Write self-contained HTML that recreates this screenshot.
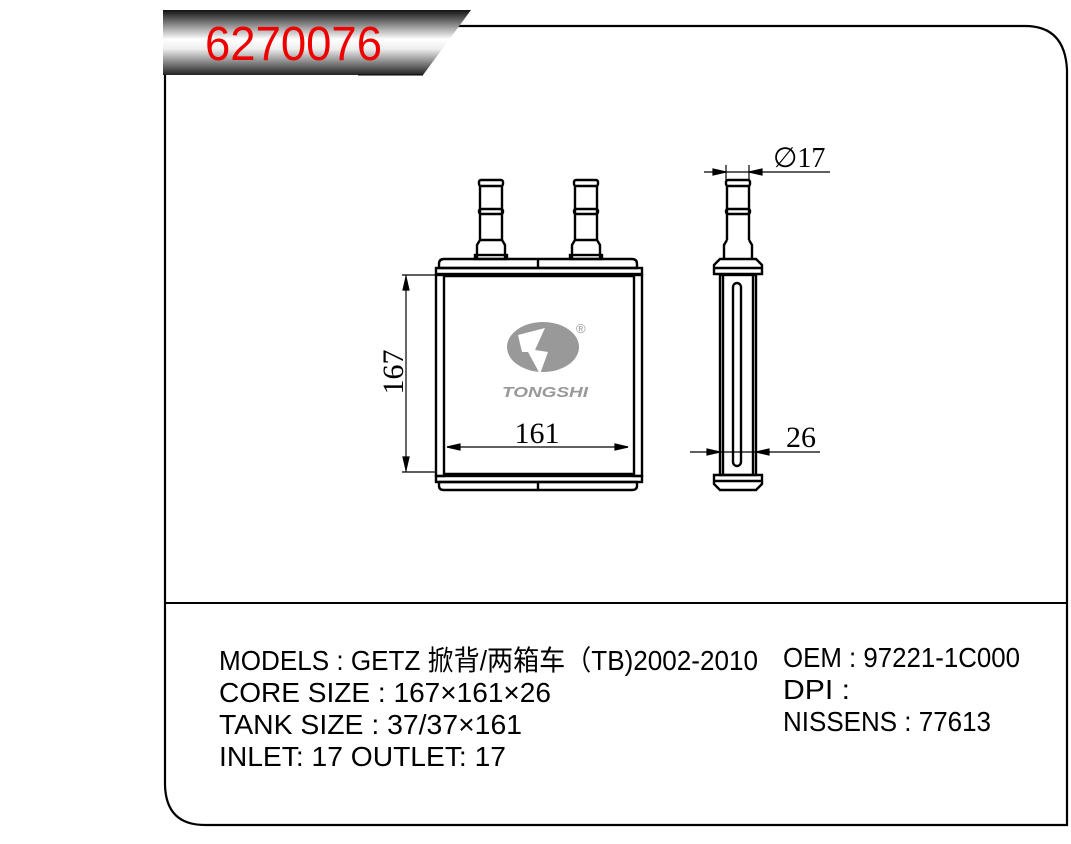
<!DOCTYPE html>
<html><head><meta charset="utf-8"><style>
html,body{margin:0;padding:0;background:#fff;}
svg{display:block;}
</style></head><body>
<svg width="1071" height="844" viewBox="0 0 1071 844" xmlns="http://www.w3.org/2000/svg">
<defs>
<linearGradient id="g" x1="0" y1="0" x2="0" y2="1">
<stop offset="0" stop-color="#111"/><stop offset="0.45" stop-color="#fff"/><stop offset="0.6" stop-color="#eee"/><stop offset="1" stop-color="#222"/>
</linearGradient>
</defs>
<path d="M458 26 H1025 Q1065 26 1067 70 V825 H205 Q166 825 165 785 V75" fill="none" stroke="#000" stroke-width="2.2"/>
<line x1="165" y1="603" x2="1067" y2="603" stroke="#000" stroke-width="2"/>
<polygon points="163,10 471,10 423,75 163,75" fill="url(#g)"/>
<line x1="358" y1="75" x2="423" y2="75" stroke="#000" stroke-width="1"/>
<text x="205" y="60" font-family="Liberation Sans, sans-serif" font-size="48" fill="#e00" textLength="177" lengthAdjust="spacingAndGlyphs">6270076</text>

<g fill="none" stroke="#000" stroke-width="2.4">
<g id="p">
<rect x="479" y="180" width="24" height="6" rx="2"/>
<line x1="480" y1="186" x2="480" y2="240"/><line x1="502" y1="186" x2="502" y2="240"/>
<rect x="479" y="209" width="24" height="5" rx="2"/>
<path d="M480 240 L477 245 V258 M502 240 L505 245 V258"/>
<line x1="480" y1="240" x2="502" y2="240"/>
<rect x="475" y="255" width="32" height="4"/>
</g>
<use href="#p" transform="translate(95,0)"/>
<path d="M444 259 H632 Q637 259 637 264 V268 H439 V264 Q439 259 444 259Z"/>
<line x1="538" y1="259" x2="538" y2="268"/>
<rect x="436" y="268" width="206" height="6"/>
<rect x="436" y="275" width="8" height="201"/>
<rect x="634" y="275" width="8" height="201"/>
<line x1="444" y1="276" x2="634" y2="276"/>
<line x1="444" y1="474" x2="634" y2="474"/>
<rect x="436" y="476" width="206" height="6"/>
<path d="M439 482 H637 V486 Q637 490 632 490 H444 Q439 490 439 486Z"/>
<line x1="538" y1="482" x2="538" y2="490"/>
</g>
<g stroke="#000" stroke-width="1.2" fill="#000">
<line x1="402" y1="275" x2="436" y2="275"/>
<line x1="402" y1="472" x2="436" y2="472"/>
<line x1="406" y1="275" x2="406" y2="472"/>
<polygon points="406,277 403,290 409,290"/><polygon points="406,470 403,457 409,457"/>
<line x1="447" y1="447" x2="628" y2="447"/>
<polygon points="447,447 460,444 460,450"/><polygon points="628,447 615,444 615,450"/>
</g>
<text x="537" y="443" font-family="Liberation Serif, serif" font-size="30" text-anchor="middle">161</text>
<text transform="translate(403,372) rotate(-90)" font-family="Liberation Serif, serif" font-size="30" text-anchor="middle">167</text>
<ellipse cx="543" cy="347" rx="36" ry="25" fill="#999"/>
<path d="M518 335 L545 328 L535 350 L548 352 L540 374 L528 352 L522 352Z" fill="#fff"/>
<text x="576" y="333" font-family="Liberation Sans, sans-serif" font-size="13" fill="#999">®</text>
<text x="545" y="397" font-family="Liberation Sans, sans-serif" font-size="15" font-weight="bold" font-style="italic" fill="#999" text-anchor="middle" textLength="86" lengthAdjust="spacingAndGlyphs">TONGSHI</text>

<g fill="none" stroke="#000" stroke-width="2.4">
<rect x="726" y="180" width="24" height="6" rx="2"/>
<line x1="727" y1="186" x2="727" y2="240"/><line x1="749" y1="186" x2="749" y2="240"/>
<rect x="726" y="209" width="24" height="5" rx="2"/>
<path d="M727 240 L724 245 V258 M749 240 L752 245 V258"/>
<path d="M720 259 H756 L762 265 V274 H714 V265Z"/>
<line x1="714" y1="268" x2="762" y2="268"/>
<rect x="720" y="275" width="36" height="200"/>
<line x1="723" y1="275" x2="723" y2="475"/><line x1="753" y1="275" x2="753" y2="475"/>
<rect x="733" y="283" width="8" height="183" rx="4"/>
<path d="M714 475 H762 V484 L756 490 H720 L714 484Z"/>
<line x1="714" y1="481" x2="762" y2="481"/>
</g>
<g stroke="#000" stroke-width="1.2" fill="#000">
<line x1="704" y1="172" x2="830" y2="172"/>
<line x1="726" y1="165" x2="726" y2="180"/><line x1="749" y1="165" x2="749" y2="180"/>
<polygon points="726,172 713,169 713,175"/><polygon points="749,172 762,169 762,175"/>
<line x1="690" y1="452" x2="820" y2="452"/>
<polygon points="720,452 707,449 707,455"/><polygon points="756,452 769,449 769,455"/>
</g>
<text x="773" y="167" font-family="Liberation Serif, serif" font-size="28">∅17</text>
<text x="786" y="447" font-family="Liberation Serif, serif" font-size="30">26</text>

<g font-family="Liberation Sans, 'Noto Sans CJK SC', sans-serif" font-size="28" fill="#000">
<text x="219" y="670" textLength="539" lengthAdjust="spacingAndGlyphs">MODELS : GETZ 掀背/两箱车（TB)2002-2010</text>
<text x="219" y="702" textLength="332" lengthAdjust="spacingAndGlyphs">CORE SIZE : 167×161×26</text>
<text x="219" y="734" textLength="303" lengthAdjust="spacingAndGlyphs">TANK SIZE : 37/37×161</text>
<text x="219" y="766" textLength="287" lengthAdjust="spacingAndGlyphs">INLET: 17  OUTLET: 17</text>
<text x="783" y="667" textLength="237" lengthAdjust="spacingAndGlyphs">OEM : 97221-1C000</text>
<text x="783" y="699" textLength="67" lengthAdjust="spacingAndGlyphs">DPI :</text>
<text x="783" y="731" textLength="208" lengthAdjust="spacingAndGlyphs">NISSENS : 77613</text>
</g>
</svg>
</body></html>
